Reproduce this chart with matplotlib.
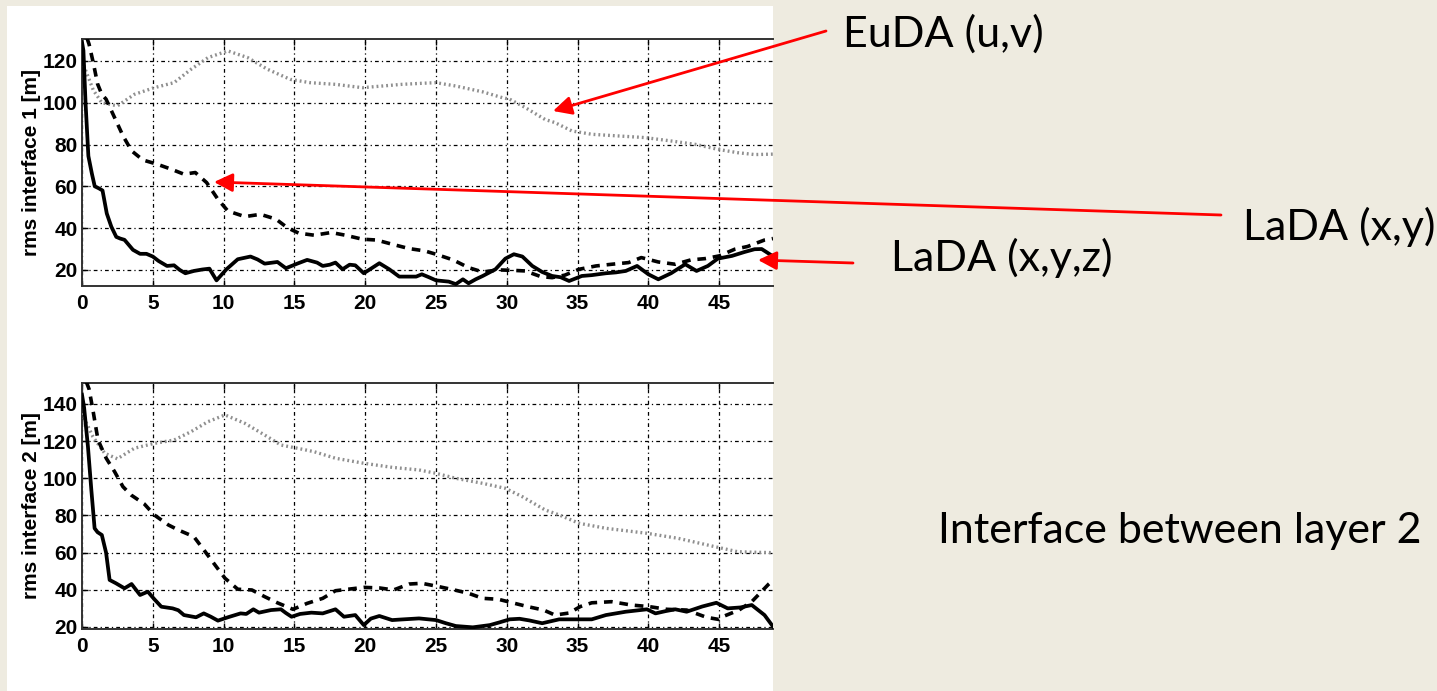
import matplotlib
matplotlib.use("Agg")
import matplotlib.pyplot as plt
from matplotlib.patches import Rectangle

# ---- data: rms error of each interface vs. assimilation cycle ----
x_ticks = [0, 5, 10, 15, 20, 25, 30, 35, 40, 45]
y_ticks_1 = [20, 40, 60, 80, 100, 120]
y_ticks_2 = [20, 40, 60, 80, 100, 120, 140]

# Interface 1
lada_xyz_1_x = [0, 0.1, 0.25, 0.45, 0.7, 0.9, 1.2, 1.45, 1.75, 2.07, 2.42, 2.7, 3.0, 3.6, 4.1, 4.55,
                5.0, 5.4, 6.0, 6.5, 6.9, 7.3, 7.9, 8.5, 9.0, 9.5, 10.2, 11.0, 11.9, 12.4, 12.9, 13.8,
                14.4, 15.2, 15.9, 16.6, 17.0, 17.5, 17.9, 18.4, 18.9, 19.3, 19.9, 20.5, 21.0, 21.7,
                22.4, 23.0, 23.6, 24.0, 24.5, 25.0, 25.9, 26.4, 26.9, 27.3, 27.8, 28.3, 29.2, 29.9,
                30.5, 31.1, 31.8, 32.5, 33.2, 33.8, 34.4, 35.3, 36.0, 37.0, 37.7, 38.4, 39.2, 40.0,
                40.7, 41.6, 42.6, 43.4, 44.2, 44.9, 45.9, 46.8, 47.5, 48.0, 48.8]
lada_xyz_1_y = [129, 125, 100, 74.5, 66, 60, 59, 58, 47, 40.7, 35.8, 35, 34.4, 29.6, 27.7, 27.7,
                26.4, 24.3, 21.9, 22.2, 20, 18.4, 19.5, 20.2, 20.6, 15, 20.3, 25.1, 26.4, 25, 23, 23.8,
                20.8, 23, 24.8, 23.5, 21.9, 22.5, 23.5, 20.3, 22.5, 22.2, 18.4, 21, 23.2, 20.3,
                16.8, 16.8, 16.8, 17.9, 16.5, 15, 14.4, 13.2, 15.5, 13.6, 15.5, 17.1, 20.3, 25.4,
                27.5, 26.4, 21.9, 19, 17.1, 16.5, 14.7, 17.1, 17.5, 18.4, 18.8, 19.5, 21.9, 17.9,
                15.5, 18.4, 22.7, 19.5, 21.9, 25.4, 26.7, 28.6, 29.9, 30, 26.5]

lada_xy_1_x = [0.35, 0.5, 0.8, 1.1, 1.4, 1.7, 2.3, 2.9, 3.5, 4.3, 5.3, 6.3, 7.2, 8.0, 8.8, 9.6,
               10.3, 11.5, 12.6, 13.7, 14.5, 15.3, 16.4, 17.6, 18.6, 19.8, 20.8, 21.9, 23.1, 24.2,
               25.0, 26.2, 27.3, 28.3, 29.4, 30.4, 31.3, 32.4, 33.2, 34.1, 35.1, 36.3, 37.4, 38.6,
               39.5, 40.7, 41.9, 43.0, 44.0, 45.0, 46.1, 47.0, 48.2, 48.8]
lada_xy_1_y = [131, 128, 119, 109, 104, 101.7, 92.9, 84.1, 77, 72.6, 70.6, 68.2, 65.8, 66.6, 61.8, 53.8,
               48.2, 45.5, 46.6, 44.3, 40.2, 37.6, 36.6, 37.9, 36.6, 34.7, 34.3, 32.3, 30.2, 29.1,
               27.5, 24.8, 21.1, 19, 20, 19.8, 19.5, 16.8, 16.3, 17.5, 20.3, 21.9, 22.7, 23.5,
               25.9, 23.8, 22.7, 24.8, 25.4, 26.7, 29.9, 31.2, 34.3, 35]

euda_1_x = [0, 0.4, 0.8, 1.4, 2.5, 3.7, 5.1, 6.5, 7.7, 8.9, 10.3, 11.7, 13.1, 14.7, 16.1, 17.9,
            19.8, 21.2, 22.6, 24.0, 25.0, 26.4, 28.3, 29.7, 30.2, 31.3, 32.7, 33.4, 34.6, 36.0,
            37.9, 39.8, 41.6, 43.3, 44.9, 46.3, 47.5, 48.8]
euda_1_y = [120, 113, 106, 100, 98.5, 104, 107.2, 109.6, 116, 121.6, 124.8, 121.6, 116, 111.2, 109.6, 108.8,
            107.2, 108, 108.8, 109.3, 109.6, 108, 105.2, 102.4, 101.7, 97.7, 92, 90.5, 86.5, 84.9,
            84.1, 83.3, 81.7, 80.1, 77.7, 76.1, 75.2, 75.4]

# Interface 2
lada_xyz_2_x = [0, 0.15, 0.42, 0.66, 0.89, 1.1, 1.4, 1.7, 1.95, 2.4, 3.0, 3.5, 4.1, 4.65, 5.1, 5.6,
                6.4, 6.8, 7.2, 8.05, 8.6, 9.1, 9.6, 10.3, 11.2, 11.6, 12.1, 12.5, 13.35, 14.05, 14.4,
                14.8, 15.4, 16.2, 17.0, 17.9, 18.5, 19.3, 19.9, 20.4, 21.0, 21.9, 22.5, 23.8, 25.0,
                25.7, 26.4, 27.6, 28.8, 29.5, 30.2, 30.9, 31.6, 32.5, 33.7, 35.1, 36.0, 37.0, 38.4,
                39.9, 40.5, 41.2, 41.9, 42.7, 43.8, 44.8, 45.6, 46.5, 47.3, 48.2, 48.8]
lada_xyz_2_y = [145, 138, 117, 93.7, 73.1, 71, 69.5, 60, 45.3, 43.5, 40.8, 43.1, 37.2, 39, 35, 30.9,
                30, 29, 26.4, 25.2, 27.3, 25.5, 23.4, 25.2, 27.3, 27.0, 29.5, 27.7, 29.1, 29.5, 27.5,
                25.5, 27, 27.7, 27.3, 29.5, 25.5, 26.4, 21, 24.5, 25.9, 23.7, 24.0, 24.6, 23.7,
                22, 20.5, 19.8, 21, 22.5, 24.1, 24.4, 23.5, 22, 24.1, 24.1, 24.1, 26.4, 28.2,
                29.5, 27.3, 28.5, 29.5, 28.2, 31, 33, 30, 30.5, 31.8, 26.4, 20.2]

lada_xy_2_x = [0.3, 0.5, 0.77, 1.13, 1.71, 2.3, 2.89, 3.47, 4.4, 5.1, 6.1, 6.8, 7.9, 8.7, 9.4, 10.1,
               11.0, 12.0, 12.9, 13.8, 14.9, 15.9, 17.0, 17.9, 18.9, 19.9, 21.0, 22.0, 23.1, 24.0,
               25.2, 26.3, 27.3, 28.3, 29.4, 30.4, 31.5, 32.6, 33.4, 34.4, 35.2, 36.0, 37.4, 38.8,
               40.1, 41.3, 42.7, 44.1, 45.0, 45.4, 46.4, 47.3, 48.5, 48.8]
lada_xy_2_y = [152, 148, 136.8, 120.6, 110.8, 103.6, 95.5, 91, 86.2, 80.3, 74.9, 72.2, 68.6, 60.5, 53.3, 46.2,
               40.3, 39.9, 36.3, 33, 29.5, 32.7, 35.4, 39.5, 40.4, 41.3, 41, 39.9, 43.1, 43.5,
               41.7, 39.9, 38.1, 35.4, 34.9, 33, 30.9, 29.1, 26.4, 27.5, 31, 33, 33.6, 31.8,
               30.9, 29.5, 29.1, 25.2, 24, 26, 29.1, 33.6, 43.1, 45]

euda_2_x = [0, 0.3, 0.77, 1.6, 2.5, 3.7, 5.1, 6.5, 7.7, 8.9, 10.1, 11.5, 12.9, 14.05, 15.2, 16.4,
            17.9, 19.9, 21.9, 23.8, 25.0, 26.4, 28.3, 29.9, 31.1, 32.7, 33.7, 35.1, 37.0, 39.9,
            42.1, 44.7, 46.3, 47.5, 48.8]
euda_2_y = [135, 130, 122.4, 113.5, 110.5, 116.2, 118.8, 120.6, 125.1, 130.5, 134.1, 129.6, 123.3, 117.9, 116.2, 114.3,
            110.8, 108.1, 105.9, 104.5, 102.7, 100, 97.3, 94.6, 90.1, 83, 80.3, 75.8, 73.1, 70.4,
            67.7, 63.2, 60.5, 60.2, 60]

W, H = 1437, 691
fig = plt.figure(figsize=(W / 100, H / 100), dpi=100)
fig.patch.set_facecolor("#EEEBE0")

# white panel holding the two graphs
fig.add_artist(Rectangle((7 / W, 0), (773 - 7) / W, (H - 6) / H, transform=fig.transFigure,
                         facecolor="white", edgecolor="none", zorder=-5))

tick_font = ["Liberation Sans", "DejaVu Sans"]
xtick_font = ["Liberation Sans Narrow", "Liberation Sans", "DejaVu Sans"]
grid_style = (0, (3, 2.5, 1, 2.5))


def px_axes(x0, y0, x1, y1):
    return fig.add_axes([x0 / W, 1 - y1 / H, (x1 - x0) / W, (y1 - y0) / H])


def style(ax, ylim, yticks, ylabel):
    ax.set_xlim(0, 48.8)
    ax.set_ylim(*ylim)
    ax.set_xticks(x_ticks)
    ax.set_yticks(yticks)
    ax.grid(True, color="black", linestyle=grid_style, linewidth=0.9)
    ax.tick_params(direction="in", length=4, width=1, top=True, right=False)
    ax.tick_params(axis="x", pad=6)
    ax.tick_params(axis="y", pad=3)
    for s in ["left", "top", "bottom"]:
        ax.spines[s].set_linewidth(1.4)
        ax.spines[s].set_color("#333333")
    ax.spines["right"].set_visible(False)
    for lab in ax.get_xticklabels():
        lab.set_family(xtick_font)
        lab.set_fontweight("bold")
        lab.set_fontsize(15)
    for lab in ax.get_yticklabels():
        lab.set_family(xtick_font)
        lab.set_fontweight("bold")
        lab.set_fontsize(15)
    ax.set_ylabel(ylabel, family=tick_font, fontweight="bold", fontsize=15)
    ax.yaxis.set_label_coords(-0.06, 0.5)


def draw(ax, sx, sy, dx, dy, ex, ey):
    ax.plot(ex, ey, color="#8f8f8f", linewidth=2.4, linestyle=(0, (0.55, 0.9)), zorder=3)
    ax.plot(dx, dy, color="black", linewidth=2.6, linestyle=(0, (2.4, 1.9)), zorder=4)
    ax.plot(sx, sy, color="black", linewidth=2.7, linestyle="-", zorder=5)


ax1 = px_axes(82, 39, 773, 286)
style(ax1, (12.3, 130.5), y_ticks_1, "rms interface 1 [m]")
draw(ax1, lada_xyz_1_x, lada_xyz_1_y, lada_xy_1_x, lada_xy_1_y, euda_1_x, euda_1_y)

ax2 = px_axes(82, 383, 773, 629)
style(ax2, (18.9, 151.3), y_ticks_2, "rms interface 2 [m]")
draw(ax2, lada_xyz_2_x, lada_xyz_2_y, lada_xy_2_x, lada_xy_2_y, euda_2_x, euda_2_y)

# overlay in pixel coordinates for the callouts
ov = fig.add_axes([0, 0, 1, 1], zorder=10)
ov.set_xlim(0, W)
ov.set_ylim(H, 0)
ov.axis("off")
ov.patch.set_alpha(0)

label_font = ["Lato", "DejaVu Sans"]
arrow = dict(arrowstyle="-|>,head_length=0.8,head_width=0.4", mutation_scale=14,
             color="#FF0000", lw=2.0, shrinkA=0, shrinkB=0)

ov.annotate("", xy=(553, 111), xytext=(826, 31), arrowprops=arrow)
ov.annotate("", xy=(214, 182), xytext=(1221, 215), arrowprops=arrow)
ov.annotate("", xy=(758, 260), xytext=(853, 263), arrowprops=arrow)

fs = 31
ov.text(843, 34, "EuDA (u,v)", family=label_font, fontsize=fs, va="center", ha="left")
ov.text(1243, 227, "LaDA (x,y)", family=label_font, fontsize=fs, va="center", ha="left")
ov.text(891, 258, "LaDA (x,y,z)", family=label_font, fontsize=fs, va="center", ha="left")
ov.text(938, 531, "Interface between layer 2", family=label_font, fontsize=fs,
        va="center", ha="left")

fig.savefig("out.png", dpi=100, facecolor=fig.get_facecolor())
